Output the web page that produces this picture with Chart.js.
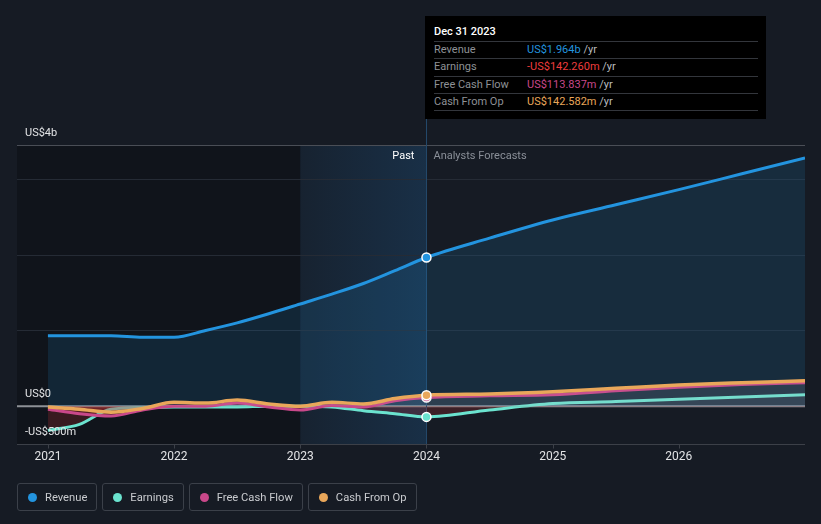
<!DOCTYPE html>
<html>
<head>
<meta charset="utf-8">
<script src="https://cdn.jsdelivr.net/npm/chart.js@4.4.1/dist/chart.umd.min.js"></script>
<style>
  html,body{margin:0;padding:0;background:#161b24;}
  #wrap{position:relative;width:821px;height:524px;font-family:Roboto,"Noto Sans",sans-serif;}
  canvas{position:absolute;left:0;top:0;}
  #tip{position:absolute;left:425px;top:16px;width:341px;height:103px;background:#000;color:#fff;font-size:11px;}
  #tip .title{position:absolute;left:9px;top:9px;font-weight:500;font-size:11px;color:#fff;}
  #tip .row{position:absolute;left:9px;width:324px;height:17px;border-top:1px solid #33363c;line-height:16px;}
  #tip .lab{position:absolute;left:0;color:#8e9196;}
  #tip .val{position:absolute;left:93px;}
  #tip .unit{color:#b9bbbf;}
  #tip .end{position:absolute;left:9px;top:94px;width:324px;border-top:1px solid #33363c;}
  #legend{position:absolute;left:17px;top:483px;height:28px;display:flex;gap:5px;}
  .lg{box-sizing:border-box;height:28px;border:1px solid #3b4049;border-radius:3px;display:flex;align-items:center;padding:0 9px 0 10px;color:#c9cbcf;font-size:11.2px;}
  .lg .dot{width:9px;height:9px;border-radius:50%;margin-right:8px;}
</style>
</head>
<body>
<div id="wrap">
  <canvas id="c" width="821" height="524"></canvas>
  <div id="tip"></div>
  <div id="legend"></div>
</div>
<script>
// ---- data (values in US$ billions) ----
const years    = [2021, 2021.25, 2021.5, 2021.75, 2022, 2022.25, 2022.5, 2022.75, 2023, 2023.25, 2023.5, 2023.75, 2024, 2024.5, 2025, 2025.5, 2026, 2026.5, 2027];
const revenue  = [0.93, 0.93, 0.93, 0.91, 0.91, 1.00, 1.10, 1.22, 1.35, 1.48, 1.62, 1.79, 1.964, 2.22, 2.46, 2.66, 2.86, 3.07, 3.28];
const earnings = [-0.32, -0.24, -0.04, -0.02, -0.01, -0.01, -0.01, 0.00, 0.00, -0.01, -0.06, -0.10, -0.142, -0.05, 0.035, 0.06, 0.09, 0.12, 0.15];
const fcf      = [-0.04, -0.10, -0.13, -0.05, 0.00, 0.00, 0.04, -0.01, -0.05, 0.01, -0.01, 0.07, 0.114, 0.136, 0.15, 0.205, 0.25, 0.285, 0.31];
const cfo      = [-0.01, -0.04, -0.08, -0.03, 0.05, 0.04, 0.08, 0.03, 0.00, 0.05, 0.03, 0.10, 0.143, 0.16, 0.19, 0.235, 0.28, 0.31, 0.335];

const seriesNames  = ['Revenue', 'Earnings', 'Free Cash Flow', 'Cash From Op'];
const seriesColors = ['#2394df', '#6be3cf', '#c9488a', '#e9a75a'];
const tipValues    = ['US$1.964b', '-US$142.260m', 'US$113.837m', 'US$142.582m'];
const tipColors    = ['#2394df', '#ee3d3d', '#c9488a', '#e9a75a'];
const tipTitle     = 'Dec 31 2023';

const xTickValues = [2021, 2022, 2023, 2024, 2025, 2026];
const xTickLabels = ['2021', '2022', '2023', '2024', '2025', '2026'];
const yGridValues = [1, 2, 3];
const yLabelValues = [3.45, 0, -0.5];
const yLabelTexts  = ['US$4b', 'US$0', '-US$500m'];
const xMin = 2020.755, xMax = 2027.0, yMin = -0.5, yMax = 3.45;
const pastStart = 2023, nowYear = 2024;
const highlightIndex = 12;

// ---- tooltip & legend (html text) ----
const tip = document.getElementById('tip');
let h = '<div class="title">' + tipTitle + '</div>';
seriesNames.forEach((n, i) => {
  h += '<div class="row" style="top:' + (25 + i * 17.3) + 'px"><span class="lab">' + n +
       '</span><span class="val"><span style="color:' + tipColors[i] + '">' + tipValues[i] +
       '</span> <span class="unit">/yr</span></span></div>';
});
h += '<div class="end"></div>';
tip.innerHTML = h;
const lg = document.getElementById('legend');
seriesNames.forEach((n, i) => {
  lg.innerHTML += '<div class="lg"><span class="dot" style="background:' + seriesColors[i] + '"></span>' + n + '</div>';
});

const pts = arr => years.map((x, i) => ({x: x, y: arr[i]}));
const ptRadius = ctx => ctx.dataIndex === highlightIndex ? 4.5 : 0;

const smallFill = {target: 'origin', above: 'rgba(190,190,200,0.07)', below: 'rgba(200,50,50,0.22)'};

const decor = {
  id: 'decor',
  beforeDatasetsDraw(chart) {
    const {ctx, chartArea: a, scales: {x, y}} = chart;
    ctx.save();
    const xp = x.getPixelForValue(pastStart), xn = x.getPixelForValue(nowYear);
    ctx.fillStyle = 'rgba(5,8,12,0.35)';
    ctx.fillRect(a.left, a.top, xp - a.left, a.bottom - a.top);
    const g = ctx.createLinearGradient(xp, 0, xn, 0);
    g.addColorStop(0, 'rgba(35,130,210,0.07)');
    g.addColorStop(1, 'rgba(35,130,210,0.20)');
    ctx.fillStyle = g;
    ctx.fillRect(xp, a.top, xn - xp, a.bottom - a.top);
    ctx.lineWidth = 1;
    ctx.strokeStyle = '#252b35';
    yGridValues.forEach(v => {
      const py = Math.round(y.getPixelForValue(v)) + 0.5;
      ctx.beginPath(); ctx.moveTo(a.left, py); ctx.lineTo(a.right, py); ctx.stroke();
    });
    let py = Math.round(y.getPixelForValue(yMax)) + 0.5;
    ctx.strokeStyle = '#4a4e56';
    ctx.beginPath(); ctx.moveTo(a.left, py); ctx.lineTo(a.right, py); ctx.stroke();
    py = Math.round(y.getPixelForValue(yMin)) + 0.5;
    ctx.strokeStyle = '#3c4048';
    ctx.beginPath(); ctx.moveTo(a.left, py); ctx.lineTo(a.right, py); ctx.stroke();
    xTickValues.forEach(v => {
      const px = Math.round(x.getPixelForValue(v)) + 0.5;
      ctx.beginPath(); ctx.moveTo(px, py); ctx.lineTo(px, py + 4); ctx.stroke();
    });
    py = y.getPixelForValue(0);
    ctx.strokeStyle = '#8d9096';
    ctx.lineWidth = 2;
    ctx.beginPath(); ctx.moveTo(a.left, py); ctx.lineTo(a.right, py); ctx.stroke();
    ctx.strokeStyle = '#23486a';
    ctx.lineWidth = 1;
    ctx.beginPath(); ctx.moveTo(Math.round(xn) + 0.5, 119); ctx.lineTo(Math.round(xn) + 0.5, a.bottom); ctx.stroke();
    ctx.restore();
  },
  afterDraw(chart) {
    const {ctx, chartArea: a, scales: {x, y}} = chart;
    ctx.save();
    ctx.font = '11px Roboto, "Noto Sans", sans-serif';
    ctx.textBaseline = 'middle';
    ctx.fillStyle = '#e2e3e5';
    ctx.textAlign = 'left';
    yLabelValues.forEach((v, i) => {
      ctx.fillText(yLabelTexts[i], 25, y.getPixelForValue(v) - 12);
    });
    ctx.font = '12px Roboto, "Noto Sans", sans-serif';
    ctx.textAlign = 'center';
    xTickValues.forEach((v, i) => {
      ctx.fillText(xTickLabels[i], x.getPixelForValue(v), a.bottom + 13);
    });
    const xn = x.getPixelForValue(nowYear);
    ctx.font = '11px Roboto, "Noto Sans", sans-serif';
    ctx.textAlign = 'right';
    ctx.fillStyle = '#ffffff';
    ctx.fillText('Past', xn - 12, a.top + 11);
    ctx.textAlign = 'left';
    ctx.fillStyle = '#8a8f98';
    ctx.fillText('Analysts Forecasts', xn + 7, a.top + 11);
    ctx.restore();
  }
};

const bg = {
  id: 'bg',
  beforeDraw(chart) {
    const c = chart.ctx;
    c.save(); c.fillStyle = '#161b24'; c.fillRect(0, 0, chart.width, chart.height); c.restore();
  }
};

new Chart(document.getElementById('c'), {
  type: 'line',
  data: {
    datasets: [
      {label: seriesNames[3], data: pts(cfo), borderColor: seriesColors[3], borderWidth: 3.5, fill: smallFill, order: 0,
       pointRadius: ptRadius, pointBackgroundColor: seriesColors[3], pointBorderColor: '#fff', pointBorderWidth: 1.5},
      {label: seriesNames[2], data: pts(fcf), borderColor: seriesColors[2], borderWidth: 3, fill: smallFill, order: 1,
       pointRadius: ptRadius, pointBackgroundColor: seriesColors[2], pointBorderColor: '#fff', pointBorderWidth: 1.5},
      {label: seriesNames[1], data: pts(earnings), borderColor: seriesColors[1], borderWidth: 3, fill: smallFill, order: 2,
       pointRadius: ptRadius, pointBackgroundColor: seriesColors[1], pointBorderColor: '#fff', pointBorderWidth: 1.5},
      {label: seriesNames[0], data: pts(revenue), borderColor: seriesColors[0], borderWidth: 3, order: 3,
       fill: {target: 'origin', above: 'rgba(35,148,223,0.14)'},
       pointRadius: ptRadius, pointBackgroundColor: seriesColors[0], pointBorderColor: '#fff', pointBorderWidth: 1.5}
    ]
  },
  options: {
    responsive: false,
    animation: false,
    layout: {padding: {left: 17, right: 16, top: 145, bottom: 80}},
    elements: {line: {cubicInterpolationMode: 'monotone'}},
    scales: {
      x: {type: 'linear', min: xMin, max: xMax, display: false},
      y: {type: 'linear', min: yMin, max: yMax, display: false}
    },
    plugins: {legend: {display: false}, tooltip: {enabled: false}}
  },
  plugins: [bg, decor]
});
</script>
</body>
</html>
